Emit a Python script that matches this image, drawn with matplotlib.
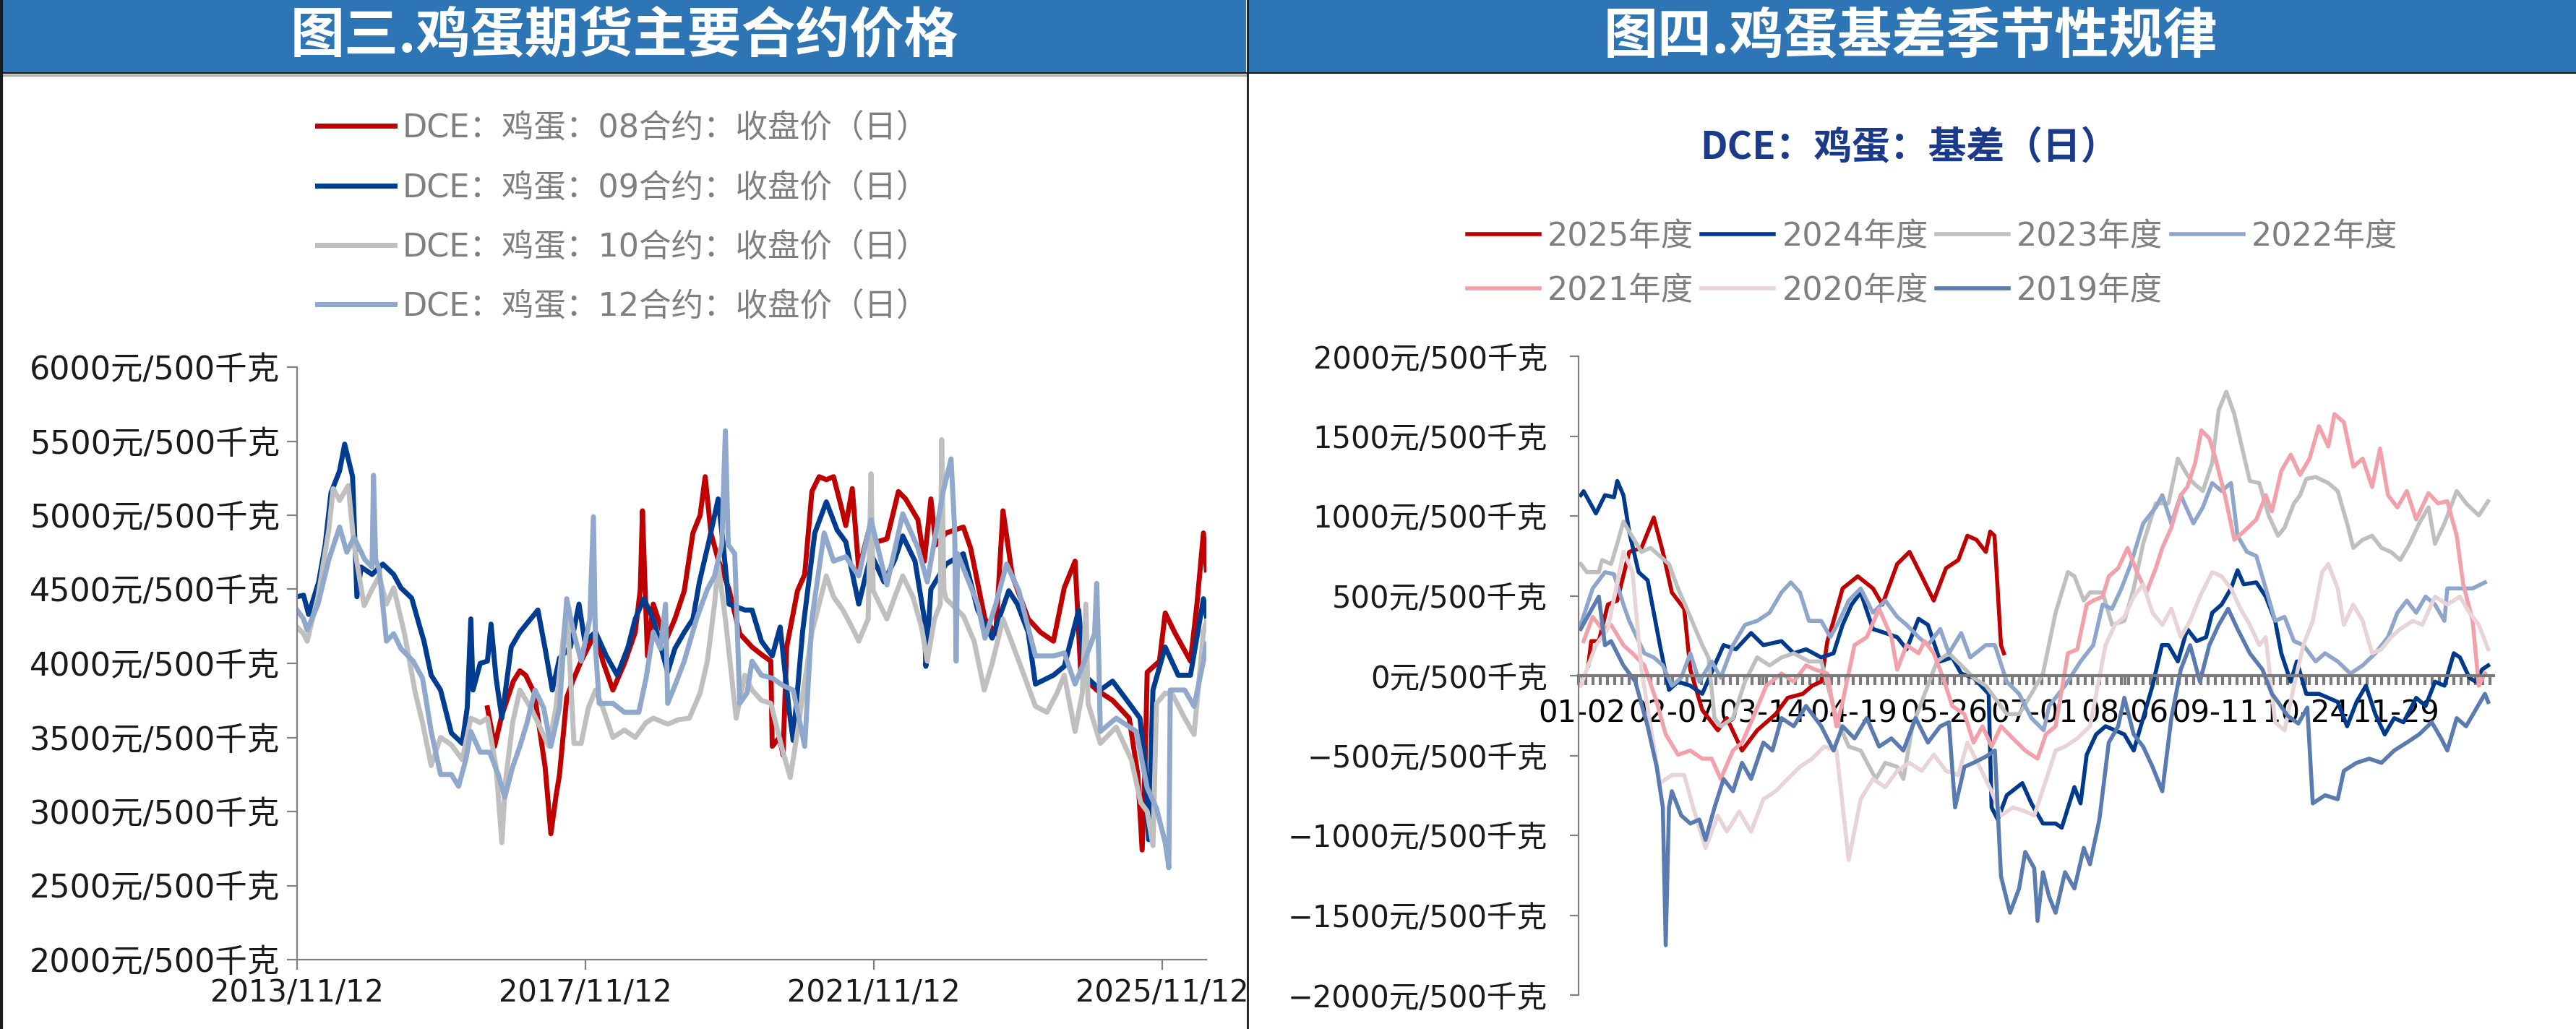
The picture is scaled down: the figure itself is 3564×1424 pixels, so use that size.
import numpy as np
import matplotlib.pyplot as plt
from matplotlib.patches import Rectangle
from matplotlib.lines import Line2D

plt.rcParams['font.family'] = ['DejaVu Sans', 'Noto Sans CJK SC']

# ---- left chart: egg futures closing prices (decimal year, yuan/500kg) ----
c08 = [(2016.5, 3700), (2016.6, 3440), (2016.7, 3650), (2016.86, 3880), (2016.95, 3950), (2017.03, 3920),
       (2017.15, 3800), (2017.24, 3500), (2017.3, 3300), (2017.38, 2850), (2017.45, 3100), (2017.5, 3250),
       (2017.6, 3770), (2017.7, 3900), (2017.8, 4015), (2018.0, 4210), (2018.1, 4015), (2018.24, 3820),
       (2018.4, 4000), (2018.55, 4210), (2018.62, 4500), (2018.65, 5030), (2018.68, 4600), (2018.72, 4050),
       (2018.8, 4400), (2018.97, 4150), (2019.1, 4300), (2019.23, 4490), (2019.35, 4880), (2019.45, 5000),
       (2019.52, 5260), (2019.6, 4880), (2019.7, 4700), (2019.85, 4500), (2020.0, 4200), (2020.17, 4110),
       (2020.3, 4060), (2020.43, 4015), (2020.45, 3440), (2020.55, 3500), (2020.6, 3380), (2020.65, 4110),
       (2020.8, 4490), (2020.9, 4600), (2021.0, 5160), (2021.1, 5260), (2021.2, 5240), (2021.3, 5260),
       (2021.4, 5070), (2021.47, 4930), (2021.56, 5180), (2021.65, 4630), (2021.78, 4880), (2021.9, 4820),
       (2022.04, 4840), (2022.2, 5160), (2022.3, 5110), (2022.47, 4970), (2022.56, 4690), (2022.65, 5110),
       (2022.72, 4800), (2022.86, 4880), (2023.1, 4920), (2023.2, 4780), (2023.4, 4300), (2023.55, 4200),
       (2023.65, 5030), (2023.78, 4590), (2024.0, 4300), (2024.17, 4210), (2024.35, 4150), (2024.5, 4510),
       (2024.65, 4690), (2024.73, 3920), (2024.95, 3820), (2025.17, 3750), (2025.4, 3630), (2025.52, 3250),
       (2025.58, 2740), (2025.62, 3300), (2025.65, 3940), (2025.82, 4015), (2025.9, 4340), (2026.03, 4210),
       (2026.25, 4015), (2026.34, 4400), (2026.43, 4880), (2026.47, 4630)]

c09 = [(2013.86, 4450), (2013.95, 4460), (2014.02, 4330), (2014.16, 4550), (2014.25, 4800), (2014.33, 5150),
       (2014.45, 5300), (2014.52, 5480), (2014.63, 5260), (2014.69, 4450), (2014.75, 4650), (2014.9, 4600),
       (2015.05, 4670), (2015.2, 4600), (2015.3, 4510), (2015.45, 4440), (2015.56, 4250), (2015.62, 4150),
       (2015.72, 3920), (2015.85, 3820), (2016.0, 3530), (2016.15, 3460), (2016.22, 3700), (2016.27, 4300),
       (2016.3, 3820), (2016.4, 4000), (2016.5, 4015), (2016.55, 4265), (2016.62, 3900), (2016.7, 3630),
       (2016.83, 4110), (2016.95, 4210), (2017.1, 4300), (2017.2, 4360), (2017.3, 4100), (2017.4, 3820),
       (2017.5, 4035), (2017.65, 4110), (2017.77, 4400), (2017.85, 4150), (2018.0, 4210), (2018.15, 4050),
       (2018.3, 3920), (2018.45, 4110), (2018.55, 4300), (2018.67, 4436), (2018.8, 4300), (2019.0, 3940),
       (2019.1, 4100), (2019.23, 4210), (2019.35, 4300), (2019.44, 4550), (2019.57, 4820), (2019.7, 5110),
       (2019.77, 4800), (2019.85, 4400), (2020.07, 4360), (2020.17, 4360), (2020.3, 4150), (2020.45, 4050),
       (2020.56, 4245), (2020.68, 3700), (2020.74, 3480), (2020.87, 4210), (2021.04, 4880), (2021.2, 5090),
       (2021.35, 4900), (2021.47, 4820), (2021.65, 4400), (2021.82, 4740), (2022.0, 4550), (2022.15, 4700),
       (2022.26, 4860), (2022.43, 4690), (2022.56, 4300), (2022.58, 3980), (2022.65, 4500), (2022.86, 4670),
       (2023.1, 4740), (2023.3, 4360), (2023.5, 4170), (2023.73, 4490), (2023.85, 4400), (2024.0, 4210),
       (2024.1, 3860), (2024.35, 3920), (2024.5, 3980), (2024.7, 4360), (2024.78, 3920), (2025.0, 3820),
       (2025.17, 3880), (2025.4, 3730), (2025.55, 3630), (2025.62, 3300), (2025.67, 2810), (2025.73, 3820),
       (2025.9, 4110), (2026.08, 3920), (2026.25, 3920), (2026.43, 4436), (2026.47, 4320)]

c10 = [(2013.86, 4245), (2013.95, 4200), (2014.0, 4150), (2014.15, 4450), (2014.3, 4900), (2014.36, 5180),
       (2014.45, 5100), (2014.57, 5200), (2014.65, 4800), (2014.79, 4390), (2014.9, 4500), (2015.0, 4590),
       (2015.1, 4400), (2015.2, 4510), (2015.35, 4200), (2015.5, 3800), (2015.6, 3600), (2015.72, 3310),
       (2015.85, 3500), (2016.0, 3450), (2016.15, 3350), (2016.27, 3630), (2016.4, 3600), (2016.5, 3630),
       (2016.62, 3300), (2016.7, 2790), (2016.75, 3200), (2016.85, 3600), (2016.95, 3820), (2017.1, 3700),
       (2017.2, 3600), (2017.35, 3440), (2017.45, 3700), (2017.6, 4400), (2017.7, 3460), (2017.8, 3460),
       (2017.9, 3700), (2018.0, 3820), (2018.1, 3700), (2018.24, 3500), (2018.4, 3550), (2018.55, 3500),
       (2018.7, 3600), (2018.8, 3630), (2019.0, 3590), (2019.15, 3620), (2019.3, 3630), (2019.45, 3800),
       (2019.55, 4015), (2019.65, 4400), (2019.7, 4670), (2019.8, 4300), (2019.95, 3630), (2020.07, 3920),
       (2020.17, 3820), (2020.3, 3750), (2020.43, 3730), (2020.6, 3400), (2020.7, 3230), (2020.8, 3540),
       (2021.0, 4210), (2021.2, 4590), (2021.3, 4450), (2021.43, 4360), (2021.55, 4250), (2021.65, 4150),
       (2021.78, 4300), (2021.82, 5280), (2021.85, 4490), (2022.04, 4300), (2022.15, 4450), (2022.26, 4590),
       (2022.4, 4450), (2022.52, 4245), (2022.6, 4015), (2022.7, 4300), (2022.78, 4400), (2022.8, 5510),
       (2022.83, 4500), (2022.86, 4436), (2023.1, 4320), (2023.25, 4150), (2023.39, 3820), (2023.5, 4000),
       (2023.65, 4300), (2023.87, 4015), (2024.1, 3710), (2024.26, 3670), (2024.4, 3800), (2024.5, 3920),
       (2024.65, 3540), (2024.75, 3800), (2024.8, 4400), (2024.83, 3730), (2025.0, 3460), (2025.22, 3570),
       (2025.43, 3350), (2025.56, 3060), (2025.65, 3000), (2025.73, 2770), (2025.78, 3730), (2025.9, 3800),
       (2026.0, 3790), (2026.17, 3630), (2026.3, 3520), (2026.43, 4210), (2026.47, 4280)]

c12 = [(2013.86, 4360), (2013.95, 4300), (2014.0, 4225), (2014.15, 4400), (2014.3, 4700), (2014.45, 4920),
       (2014.55, 4750), (2014.65, 4850), (2014.8, 4700), (2014.9, 4650), (2014.92, 5270), (2014.95, 4700),
       (2015.0, 4630), (2015.1, 4150), (2015.2, 4200), (2015.3, 4100), (2015.47, 4015), (2015.6, 3900),
       (2015.72, 3540), (2015.85, 3250), (2016.0, 3250), (2016.1, 3170), (2016.2, 3350), (2016.27, 3540),
       (2016.4, 3400), (2016.53, 3400), (2016.65, 3250), (2016.74, 3095), (2016.85, 3300), (2016.95, 3440),
       (2017.05, 3600), (2017.16, 3820), (2017.28, 3700), (2017.38, 3440), (2017.5, 3700), (2017.6, 4436),
       (2017.7, 4200), (2017.8, 4015), (2017.92, 4300), (2017.97, 4990), (2018.0, 4100), (2018.05, 3730),
       (2018.24, 3730), (2018.4, 3670), (2018.6, 3670), (2018.7, 3900), (2018.8, 4210), (2018.9, 4100),
       (2018.97, 4400), (2019.0, 3730), (2019.1, 3850), (2019.23, 4015), (2019.4, 4300), (2019.55, 4500),
       (2019.65, 4590), (2019.75, 4800), (2019.8, 5570), (2019.84, 4800), (2019.93, 4740), (2020.0, 3730),
       (2020.1, 3800), (2020.17, 4015), (2020.3, 3920), (2020.45, 3900), (2020.6, 3850), (2020.74, 3820),
       (2020.9, 3440), (2021.0, 4300), (2021.17, 4880), (2021.3, 4690), (2021.47, 4720), (2021.65, 4590),
       (2021.82, 4970), (2022.04, 4530), (2022.26, 5010), (2022.47, 4780), (2022.6, 4550), (2022.82, 5160),
       (2022.93, 5380), (2022.98, 4900), (2023.0, 4015), (2023.02, 4740), (2023.3, 4400), (2023.4, 4170),
       (2023.55, 4400), (2023.7, 4670), (2023.87, 4490), (2024.1, 4050), (2024.35, 4050), (2024.5, 4070),
       (2024.65, 3860), (2024.78, 4015), (2024.92, 4200), (2024.95, 4540), (2024.98, 4000), (2025.0, 3540),
       (2025.22, 3630), (2025.5, 3540), (2025.65, 3160), (2025.78, 3020), (2025.9, 2790), (2025.95, 2620),
       (2025.97, 3820), (2026.17, 3820), (2026.3, 3710), (2026.43, 4015), (2026.47, 4130)]

left_names = ['DCE：鸡蛋：08合约：收盘价（日）', 'DCE：鸡蛋：09合约：收盘价（日）',
              'DCE：鸡蛋：10合约：收盘价（日）', 'DCE：鸡蛋：12合约：收盘价（日）']
left_colors = ['#C00000', '#003C8F', '#BFBFBF', '#8FA8CB']
left_xticks = [2013.86, 2017.86, 2021.86, 2025.86]
left_xlabels = ['2013/11/12', '2017/11/12', '2021/11/12', '2025/11/12']

# ---- right chart: basis by season (trading-day index, yuan/500kg) ----
b2025 = [(2.7, 64), (3.5, 216), (5.6, 216), (8.1, 445), (10.7, 470), (14, 775), (17.4, 800), (20.8, 990),
         (23.3, 775), (25.8, 521), (29.2, 419), (30.9, 38), (34.2, -215), (38.5, -342), (41, -266),
         (45.2, -469), (49.4, -342), (54.5, -241), (57.8, -139), (62, -114), (64.6, -63), (67.1, -38),
         (68.8, 216), (70.5, 343), (73, 546), (77.2, 622), (81.4, 546), (84, 445), (88.1, 699), (91.5, 775),
         (94.9, 622), (98.2, 470), (101.6, 673), (105, 724), (107.5, 876), (110, 851), (112.6, 775),
         (113.8, 902), (115, 876), (116.8, 191), (117.6, 140)]

b2024 = [(0.6, 1130), (1.4, 1155), (4.8, 1016), (7.3, 1130), (9.8, 1117), (10.7, 1219), (12.4, 1130),
         (14, 902), (16.6, 648), (19.1, 597), (22.5, 191), (25, -89), (27.5, -38), (30.9, -63), (34.2, -114),
         (37.6, 64), (40.1, 191), (43.5, 165), (47.7, 267), (51.1, 191), (56.1, 216), (59.5, 140), (62.9, 165),
         (67.1, 114), (70.5, 140), (73, 318), (75.5, 445), (78, 521), (81.4, 292), (84.8, 267), (88.1, 241),
         (90.7, 165), (94, 356), (96.6, 318), (100, 89), (103.3, 114), (105.8, 13), (109.2, -13),
         (113.4, -114), (114.2, -825), (115.9, -901), (118.4, -749), (122.7, -673), (125.2, -800),
         (128.4, -926), (131.9, -926), (133.6, -952), (137.1, -698), (138.8, -800), (140.5, -495),
         (143.1, -368), (145.7, -317), (148.3, -342), (150.9, -368), (153.5, -469), (156.1, -266),
         (158.7, -63), (161.3, 191), (163.1, 191), (165.7, 89), (168.3, 292), (170.9, 216), (173.5, 241),
         (175.2, 394), (177.8, 445), (180.4, 546), (182.2, 660), (183.9, 572), (187.4, 584), (190, 495),
         (192.6, 343), (194.3, 140), (196.9, -38), (198.6, 89), (201.2, -114), (204.7, -114), (207.3, -139),
         (209.9, -165), (212.5, -317), (215.1, -165), (217.7, -63), (220.3, -241), (222.9, -368),
         (225.5, -266), (228.1, -292), (231.6, -139), (234.2, -190), (236.8, -38), (239.4, -63), (242, 140),
         (243.7, 114), (246.3, -13), (248, -38), (249.8, 38), (251.5, 64)]

b2023 = [(0.6, 699), (2.3, 648), (5.6, 648), (6.5, 724), (9, 699), (10.7, 826), (12.4, 965), (14, 902),
         (17.4, 775), (19.9, 800), (22.5, 749), (25, 699), (27.5, 546), (30.9, 368), (34.2, 191), (35.9, 114),
         (37.6, -266), (39.3, -317), (42.7, -266), (46, -38), (49.4, 114), (52.8, 64), (56.1, 114),
         (59.5, 140), (63.7, 89), (67.1, 89), (71.3, -266), (74.7, -444), (78, -469), (82.2, -647),
         (84.8, -546), (88.1, -571), (89.8, -647), (92.3, -317), (95.7, -114), (99.1, 89), (102.4, 140),
         (105.8, 64), (109.2, -13), (112.6, -63), (115.1, -139), (118.4, -241), (121.8, -241), (125.2, -114),
         (128.4, 13), (131.9, 394), (135.3, 648), (137.1, 622), (139.7, 470), (141.4, 521), (144.9, 521),
         (147.5, 318), (150.9, 343), (153.5, 546), (156.1, 826), (159.6, 1079), (163.1, 1079), (165.7, 1359),
         (168.3, 1257), (170, 1206), (172.6, 1156), (175.2, 1333), (177, 1663), (179.1, 1778), (181.3, 1638),
         (183.9, 1384), (185.6, 1219), (188.2, 1206), (190.8, 1003), (193.4, 876), (195.2, 927),
         (197.8, 1079), (199.5, 1130), (201.2, 1232), (203.8, 1244), (207.3, 1206), (209.9, 1156),
         (212.5, 953), (214.2, 800), (216.8, 851), (219.4, 876), (222, 800), (224.6, 775), (227.2, 724),
         (229.8, 826), (232.4, 953), (235, 1054), (236.8, 826), (239.4, 953), (242.8, 1156), (245.4, 1079),
         (248.9, 1003), (251.5, 1092)]

b2022 = [(0.6, 318), (3.9, 546), (7.3, 648), (9.8, 635), (12.4, 445), (14, 343), (18.2, 140), (20.8, 114),
         (23.3, 64), (25.8, -63), (28.4, -13), (30.9, 140), (33.4, -38), (36.8, 89), (39.3, -13), (42.7, 191),
         (46, 318), (49.4, 343), (52.8, 394), (56.1, 521), (58.7, 584), (61.2, 521), (63.7, 343), (67.1, 343),
         (69.6, 241), (72.1, 343), (74.7, 470), (78, 546), (81.4, 394), (84.8, 470), (88.1, 368), (90.7, 318),
         (94, 241), (96.6, 191), (100, 292), (102.4, 140), (105.8, 267), (108.3, 114), (112.6, 191),
         (115.1, 191), (118.4, -38), (121.8, -114), (125.2, -266), (128.6, -342), (130.1, -190),
         (134.5, -63), (138.8, 89), (142.3, 191), (144.9, 445), (147.5, 419), (150.1, 546), (152.7, 699),
         (156.1, 953), (159.6, 1054), (161.4, 1130), (163.9, 953), (166.5, 1130), (170, 953), (172.6, 1054),
         (175.2, 1206), (177.8, 1156), (180.4, 1206), (182.2, 876), (184.8, 775), (187.4, 749), (190, 546),
         (192.6, 343), (195.2, 368), (197.8, 216), (200.4, 191), (203.8, 89), (206.4, 140), (209.9, 89),
         (213.4, 13), (216.8, 64), (220.3, 140), (223.8, 241), (226.4, 394), (229, 470), (231.6, 394),
         (234.2, 495), (236.8, 445), (239.4, 343), (240.2, 546), (243.7, 546), (247.2, 546), (250.6, 584)]

b2021 = [(1.4, 216), (3.9, 368), (6.5, 292), (9, 318), (12.4, 191), (14.9, 140), (18.2, 64), (21.6, -165),
         (24.1, -368), (27.5, -495), (30.9, -469), (34.2, -520), (36.8, -520), (39.3, -647), (42.7, -469),
         (45.2, -419), (47.7, -292), (51.9, -63), (56.1, 13), (59.5, -38), (62.9, 64), (65.4, 38), (68.8, 13),
         (71.3, -317), (73, -165), (76.3, 191), (79.7, 241), (83.1, 419), (86.5, 241), (88.1, 38),
         (90.7, 191), (94, 140), (95.7, 216), (98.2, 140), (100.8, -13), (103.3, -190), (106.7, -241),
         (109.2, -419), (111.7, -317), (114.2, -444), (116.8, -317), (120.1, -393), (123.5, -469),
         (126.9, -520), (129.2, -368), (131.9, -317), (135.3, 140), (137.9, 165), (140.5, 445), (142.3, 470),
         (144.9, 495), (146.6, 622), (149.2, 673), (151.8, 800), (154.4, 648), (157, 521), (159.6, 673),
         (161.4, 800), (163.9, 927), (166.5, 1130), (168.3, 1181), (170.5, 1333), (172.2, 1536),
         (174.4, 1485), (176.1, 1359), (178.7, 1130), (181.3, 851), (183.9, 902), (187.4, 978), (190, 1130),
         (191.7, 1029), (194.3, 1282), (196.9, 1384), (199.5, 1257), (202.1, 1359), (204.7, 1562),
         (207.3, 1435), (209, 1638), (211.6, 1587), (214.2, 1308), (216.8, 1359), (219.4, 1181),
         (221.6, 1422), (223.8, 1130), (226.4, 1054), (229, 1156), (231.6, 978), (235, 1143), (237.6, 1079),
         (240.2, 1092), (242.8, 876), (244.6, 572), (247.2, 343), (248.9, -63), (250.6, 13)]

b2020 = [(0.6, -63), (4.8, 191), (8.1, 292), (12.4, 775), (14.9, 648), (17.4, 38), (19.9, -317),
         (22.5, -673), (25.8, -622), (29.2, -622), (31.7, -825), (35.1, -1079), (38.5, -876), (41, -977),
         (44.4, -850), (47.7, -977), (51.1, -774), (54.5, -724), (57.8, -647), (61.2, -571), (64.6, -520),
         (67.9, -444), (71.3, -469), (74.7, -1155), (78, -774), (81.4, -647), (84.8, -698), (88.1, -596),
         (91.5, -546), (94.9, -596), (98.2, -495), (101.6, -596), (105, -622), (107.5, -419), (110.9, -571),
         (114.2, -724), (116.8, -876), (120.1, -825), (123.5, -850), (126, -876), (128.6, -698),
         (131.9, -469), (134.5, -444), (137.9, -393), (141.4, -317), (144, -13), (145.7, 191), (148.3, 318),
         (150.9, 368), (153.5, 495), (156.1, 572), (158.7, 394), (161.4, 318), (163.9, 419), (166.5, 241),
         (169.1, 343), (171.8, 495), (175.2, 648), (177.8, 622), (180.4, 546), (183, 419), (185.6, 318),
         (188.2, 191), (190, 241), (192.6, -292), (195.2, -342), (197.8, -63), (200.4, 191), (203, 343),
         (205.6, 648), (207.3, 699), (209.9, 546), (211.6, 318), (214.2, 445), (216.8, 343), (219.4, 140),
         (222, 165), (224.6, 241), (227.2, 292), (230.7, 343), (233.3, 318), (236.8, 495), (240.2, 445),
         (243.7, 495), (246.3, 394), (248.9, 318), (251.5, 165)]

b2019 = [(0.6, 292), (3.1, 394), (5.6, 495), (7.3, 191), (9, 216), (12.4, 64), (15.7, -38), (19.1, -317),
         (21.6, -571), (23.3, -825), (24.1, -1688), (25, -825), (25.8, -724), (28.4, -876), (30.9, -926),
         (33.4, -901), (35.1, -1028), (37.6, -825), (40.1, -647), (42.7, -724), (45.2, -546), (47.7, -647),
         (51.1, -419), (53.6, -469), (56.1, -266), (59.5, -317), (62.9, -190), (67.1, -317), (70.5, -469),
         (73, -317), (76.3, -393), (79.7, -266), (83.1, -444), (86.5, -393), (89.8, -469), (93.2, -266),
         (96.6, -419), (100, -317), (102.4, -292), (104.1, -825), (106.7, -571), (109.2, -546),
         (112.6, -507), (115.1, -469), (116.8, -1257), (119.3, -1485), (121.8, -1333), (123.5, -1104),
         (126, -1206), (126.9, -1536), (128.4, -1231), (130.1, -1384), (131.9, -1485), (134.5, -1231),
         (137.1, -1333), (139.7, -1079), (141.4, -1181), (144, -901), (146.6, -419), (149.2, -317),
         (150.9, -139), (153.5, -368), (156.1, -444), (158.7, -571), (161.4, -724), (163.9, -266),
         (166.5, 38), (169.1, 191), (171.8, -38), (174.4, 191), (177, 318), (179.6, 419), (182.2, 292),
         (185.6, 140), (189.1, 38), (191.7, -114), (193.4, -165), (196, -250), (199, -300), (201.5, -200),
         (203, -800), (206.4, -749), (209.9, -774), (211.6, -596), (215.1, -546), (218.6, -520),
         (222, -546), (225.5, -469), (229, -419), (232.4, -368), (235.9, -292), (238.5, -393),
         (240.2, -469), (242.8, -266), (245.4, -317), (248, -215), (250.6, -114), (251.5, -165)]

season_names = ['2025年度', '2024年度', '2023年度', '2022年度', '2021年度', '2020年度', '2019年度']
season_colors = ['#C00000', '#003A8C', '#BFBFBF', '#8EA6CC', '#F2A0AA', '#E8D4D6', '#5A7BB0']
right_xlabels = ['01-02', '02-07', '03-14', '04-19', '05-26', '07-01', '08-06', '09-11', '10-24', '11-29']

W, H = 3564, 1424
fig = plt.figure(figsize=(W / 100, H / 100), dpi=100)
fig.patch.set_facecolor('white')


def fx(x):
    return x / W


def fy(y):
    return 1 - y / H


grey = '#808080'
cjk = ['Noto Sans CJK SC', 'DejaVu Sans']
mixed = ['DejaVu Sans', 'Noto Sans CJK SC']

# headers
fig.add_artist(Rectangle((0, fy(100)), fx(1724), 100 / H, transform=fig.transFigure,
                         facecolor='#2E75B6', edgecolor='none'))
fig.add_artist(Rectangle((fx(1727), fy(100)), fx(W - 1727), 100 / H, transform=fig.transFigure,
                         facecolor='#2E75B6', edgecolor='none'))
fig.add_artist(Line2D([0, 1], [fy(100.5)] * 2, transform=fig.transFigure, color='#1a1a1a', lw=1.5))
fig.add_artist(Line2D([0, fx(1724)], [fy(104)] * 2, transform=fig.transFigure, color='#b0b0b0', lw=2.5))
fig.add_artist(Line2D([fx(1725.5)] * 2, [0, 1], transform=fig.transFigure, color='#1a1a1a', lw=2))
fig.add_artist(Line2D([fx(2)] * 2, [0, 1], transform=fig.transFigure, color='#1a1a1a', lw=3))
fig.text(fx(864), fy(50), '图三.鸡蛋期货主要合约价格', ha='center', va='center', color='white',
         fontsize=54, fontweight='bold', family=cjk)
fig.text(fx(2643), fy(50), '图四.鸡蛋基差季节性规律', ha='center', va='center', color='white',
         fontsize=54, fontweight='bold', family=cjk)

# ---- left chart ----
ax1 = fig.add_axes([fx(411), fy(1328), fx(1669 - 411), (1328 - 508) / H])
for data, name, col in zip([c08, c09, c10, c12], left_names, left_colors):
    t, v = zip(*data)
    ax1.plot(t, v, color=col, lw=5, label=name, solid_joinstyle='round')
ax1.set_xlim(2013.86, 2026.47)
ax1.set_ylim(2000, 6000)
ax1.set_yticks(np.arange(2000, 6001, 500))
ax1.set_yticklabels([f'{int(v)}元/500千克' for v in np.arange(2000, 6001, 500)])
ax1.set_xticks(left_xticks)
ax1.set_xticklabels(left_xlabels)
for s in ['top', 'right']:
    ax1.spines[s].set_visible(False)
for s in ['left', 'bottom']:
    ax1.spines[s].set_color(grey)
    ax1.spines[s].set_linewidth(1.6)
ax1.tick_params(axis='both', color=grey, width=1.6, length=10, direction='out')
ax1.tick_params(axis='y', labelsize=32, pad=7, labelcolor='#1a1a1a')
ax1.tick_params(axis='x', labelsize=30, pad=8, labelcolor='#1a1a1a')

fig.legend(*ax1.get_legend_handles_labels(), loc='upper left', bbox_to_anchor=(fx(439), fy(156)),
           frameon=False, prop={'family': mixed, 'size': 32}, labelcolor='#7F7F7F',
           handlelength=2.4, handletextpad=0.25, labelspacing=0.88, borderpad=0, borderaxespad=0)

# ---- right chart ----
ax2 = fig.add_axes([fx(2184), fy(1377), fx(3450 - 2184), (1377 - 493) / H])
lines = {}
for data, name, col in zip([b2025, b2024, b2023, b2022, b2021, b2020, b2019], season_names, season_colors):
    x, v = zip(*data)
    lines[name], = ax2.plot(x, v, color=col, lw=4, label=name, solid_joinstyle='round')
ax2.set_xlim(0, 253)
ax2.set_ylim(-2000, 2000)
ax2.set_yticks(np.arange(-2000, 2001, 500))
ax2.set_yticklabels([f'{int(v)}元/500千克'.replace('-', '−') for v in np.arange(-2000, 2001, 500)])
ax2.set_xticks(np.arange(1, 227, 25))
ax2.set_xticklabels(right_xlabels)
ax2.set_xticks(np.arange(0, 254, 2), minor=True)
for s in ['top', 'right']:
    ax2.spines[s].set_visible(False)
ax2.spines['bottom'].set_position(('data', 0))
ax2.spines['bottom'].set_color('#7a7a7a')
ax2.spines['bottom'].set_linewidth(3)
ax2.spines['left'].set_color(grey)
ax2.spines['left'].set_linewidth(1.6)
ax2.tick_params(axis='y', color=grey, width=1.6, length=9, labelsize=30, pad=22, labelcolor='#1a1a1a')
ax2.tick_params(axis='x', which='both', color='#7a7a7a', width=3, length=9, direction='out')
ax2.tick_params(axis='x', which='major', labelsize=30, pad=14, labelcolor='black')

fig.text(fx(2642), fy(205), 'DCE：鸡蛋：基差（日）', ha='center', va='center', color='#1B3A8A',
         fontsize=38, fontweight='bold', family=cjk)

order = ['2025年度', '2021年度', '2024年度', '2020年度', '2023年度', '2019年度', '2022年度']
fig.legend([lines[n] for n in order], order, loc='upper left', ncol=4,
           bbox_to_anchor=(fx(2030), fy(306)), frameon=False, prop={'family': mixed, 'size': 32},
           labelcolor='#7F7F7F', handlelength=2.25, handletextpad=0.25, columnspacing=0.25,
           labelspacing=0.72, borderpad=0, borderaxespad=0)

fig.savefig('out.png', dpi=100, facecolor='white')
